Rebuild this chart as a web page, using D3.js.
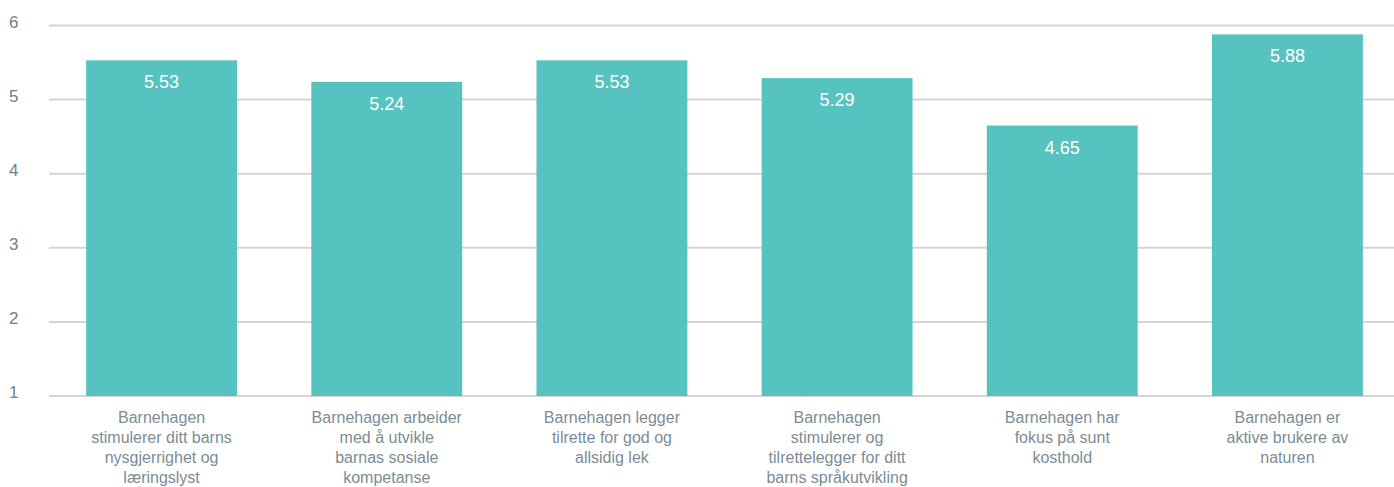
<!DOCTYPE html>
<html>
<head>
<meta charset="utf-8">
<script src="https://cdn.jsdelivr.net/npm/d3@7"></script>
<style>
  html, body { margin: 0; padding: 0; background: #fff; }
  svg { display: block; font-family: "Liberation Sans", Arial, sans-serif; }
</style>
</head>
<body>
<svg id="chart" width="1394" height="487"></svg>
<script>
// category labels, one entry per line as they are broken in the chart
const categories = [
    ['Barnehagen', 'stimulerer ditt barns', 'nysgjerrighet og', 'læringslyst'],
    ['Barnehagen arbeider', 'med å utvikle', 'barnas sosiale', 'kompetanse'],
    ['Barnehagen legger', 'tilrette for god og', 'allsidig lek'],
    ['Barnehagen', 'stimulerer og', 'tilrettelegger for ditt', 'barns språkutvikling'],
    ['Barnehagen har', 'fokus på sunt', 'kosthold'],
    ['Barnehagen er', 'aktive brukere av', 'naturen']
];
const values = [5.53, 5.24, 5.53, 5.29, 4.65, 5.88];
const yTicks = [1, 2, 3, 4, 5, 6];

const svg = d3.select('#chart');

const x = d3.scaleBand()
    .domain(d3.range(categories.length))
    .range([49, 1400])
    .paddingInner(0.33)
    .paddingOuter(0.165);

const y = d3.scaleLinear()
    .domain([1, 6])
    .range([396, 25.5]);

// gridlines
svg.append('g')
    .selectAll('line')
    .data(yTicks)
    .join('line')
    .attr('x1', 49)
    .attr('x2', 1394)
    .attr('y1', d => y(d))
    .attr('y2', d => y(d))
    .attr('stroke', '#d5d5d5')
    .attr('stroke-width', 2);

// y tick labels
svg.append('g')
    .selectAll('text')
    .data(yTicks)
    .join('text')
    .attr('x', 9)
    .attr('y', d => y(d) + 2)
    .attr('fill', '#6f8089')
    .attr('font-size', 17)
    .text(d => d);

// bars
svg.append('g')
    .selectAll('rect')
    .data(values)
    .join('rect')
    .attr('x', (d, i) => x(i))
    .attr('width', x.bandwidth())
    .attr('y', d => y(d))
    .attr('height', d => y(1) - y(d))
    .attr('fill', '#57c3c0');

// value labels
svg.append('g')
    .selectAll('text')
    .data(values)
    .join('text')
    .attr('x', (d, i) => x(i) + x.bandwidth() / 2)
    .attr('y', d => y(d) + 28)
    .attr('text-anchor', 'middle')
    .attr('fill', '#ffffff')
    .attr('font-size', 18)
    .text(d => d.toFixed(2));

// category labels
svg.append('g')
    .selectAll('text')
    .data(categories)
    .join('text')
    .attr('x', (d, i) => x(i) + x.bandwidth() / 2)
    .attr('y', 423)
    .attr('text-anchor', 'middle')
    .attr('fill', '#7b8c95')
    .attr('font-size', 16)
    .each(function (lines, i) {
        d3.select(this)
            .selectAll('tspan')
            .data(lines)
            .join('tspan')
            .attr('x', x(i) + x.bandwidth() / 2)
            .attr('dy', (l, j) => j === 0 ? 0 : 20)
            .text(l => l);
    });
</script>
</body>
</html>
